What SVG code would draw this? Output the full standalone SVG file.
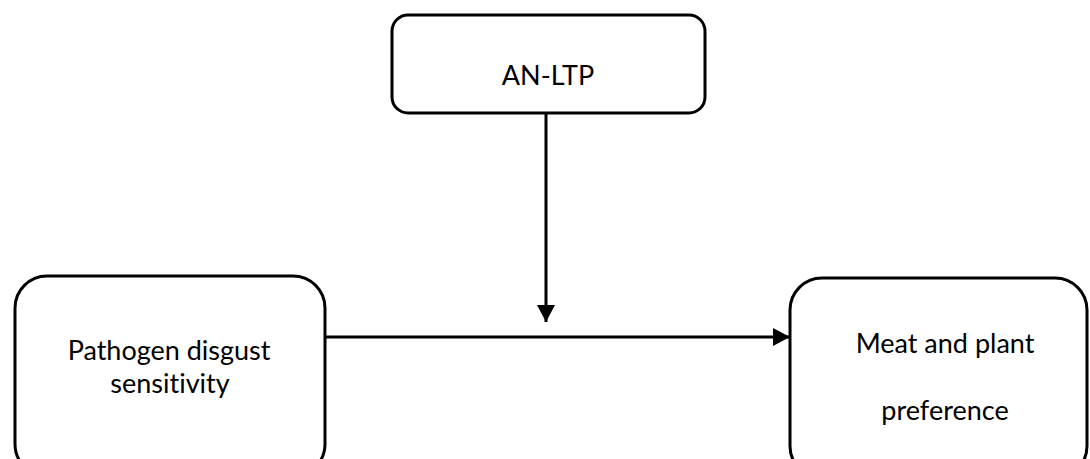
<svg xmlns="http://www.w3.org/2000/svg" width="1090" height="459" viewBox="0 0 1090 459">
<style>
.box{fill:#fff;stroke:#000;stroke-width:3}
.t{font-family:Lato,"Open Sans","Liberation Sans",sans-serif;font-size:27px;fill:#000;text-anchor:middle;font-variant-ligatures:none;font-feature-settings:"liga" 0,"clig" 0,"dlig" 0}
.c{stroke:#000;stroke-width:3;fill:none}
</style>
<defs>
<marker id="ah" markerUnits="userSpaceOnUse" markerWidth="18" markerHeight="18" refX="17" refY="9" orient="auto">
<path d="M0,0 L17,9 L0,18 Z" fill="#000"/>
</marker>
</defs>
<rect width="1090" height="459" fill="#fff"/>
<g id="node-anltp">
<rect class="box" x="392" y="15" width="313" height="98" rx="16"/>
<text class="t" x="548" y="85">AN-LTP</text>
</g>
<g id="node-pathogen">
<rect class="box" x="15" y="276" width="310" height="200" rx="32"/>
<text class="t" x="169" y="360">Pathogen disgust</text>
<text class="t" x="170" y="393">sensitivity</text>
</g>
<g id="node-meat">
<rect class="box" x="790" y="278" width="297" height="200" rx="32"/>
<text class="t" x="945" y="353">Meat and plant</text>
<text class="t" x="945" y="420">preference</text>
</g>
<g id="connectors">
<line class="c" x1="546" y1="113" x2="546" y2="322" marker-end="url(#ah)"/>
<line class="c" x1="325" y1="337" x2="790" y2="337" marker-end="url(#ah)"/>
</g>
</svg>
